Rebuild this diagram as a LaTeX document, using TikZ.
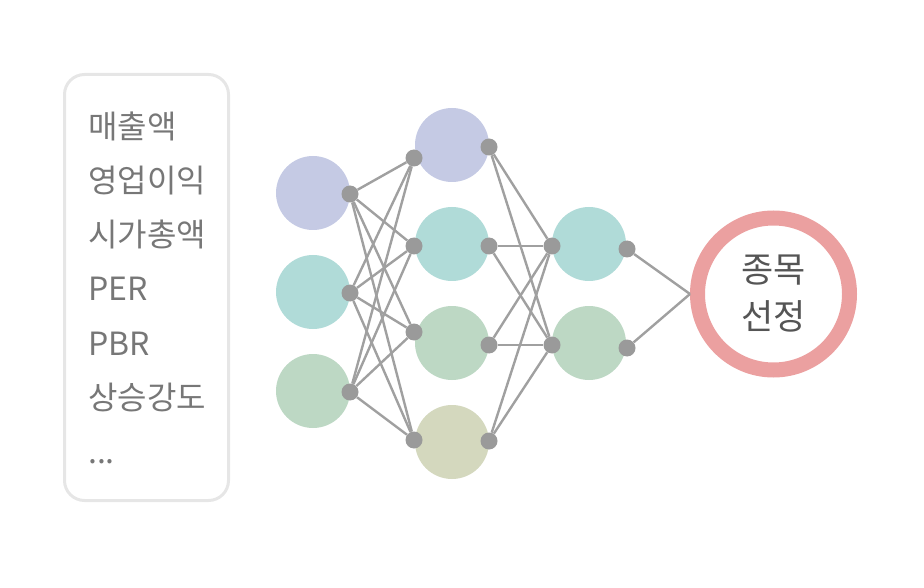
\documentclass[tikz,border=0pt]{standalone}
\usepackage{fontspec}
\setmainfont{Noto Sans CJK KR}
\definecolor{lavender}{HTML}{C5CAE4}
\definecolor{aqua}{HTML}{B0DBD8}
\definecolor{sage}{HTML}{BDD8C4}
\definecolor{olive}{HTML}{D4D8BE}
\definecolor{rose}{HTML}{EBA0A0}
\definecolor{dotgray}{HTML}{9A9A9A}
\definecolor{linegray}{HTML}{A0A0A0}
\definecolor{boxgray}{HTML}{E6E6E6}
\definecolor{textgray}{HTML}{777777}
\definecolor{darkgray}{HTML}{555555}
\tikzset{
  neuron/.style={shape=circle,minimum size=74pt,inner sep=0pt},
  pin/.style={shape=circle,fill=dotgray,minimum size=17pt,inner sep=0pt},
  wire/.style={draw=linegray,line width=2.4pt},
  feature/.style={anchor=base west,text=textgray,font=\fontsize{32}{32}\selectfont,inner sep=0pt}
}
\begin{document}
\begin{tikzpicture}[x=1pt,y=-1pt]
            \useasboundingbox (0,0) rectangle (924,588);
            % feature box
            \node[draw=boxgray,line width=3pt,rounded corners=20pt,minimum width=164pt,minimum height=426pt] (feat) at (146.5,287.5) {};
            \node[feature] (f1) at (88,139) {매출액};
            \node[feature] (f2) at (88,193) {영업이익};
            \node[feature] (f3) at (88,247) {시가총액};
            \node[feature] (f4) at (88,301) {PER};
            \node[feature] (f5) at (88,355) {PBR};
            \node[feature] (f6) at (88,409) {상승강도};
            \node[feature] (f7) at (88,463) {...};

            % vertices
            \node[neuron,fill=lavender] (i1) at (313,193) {};
            \node[neuron,fill=aqua] (i2) at (313,292) {};
            \node[neuron,fill=sage] (i3) at (313,391) {};
            \node[neuron,fill=lavender] (h1) at (452,145) {};
            \node[neuron,fill=aqua] (h2) at (452,244) {};
            \node[neuron,fill=sage] (h3) at (452,343) {};
            \node[neuron,fill=olive] (h4) at (452,442) {};
            \node[neuron,fill=aqua] (k1) at (589,244) {};
            \node[neuron,fill=sage] (k2) at (589,343) {};
            \node[shape=circle,draw=rose,line width=15pt,minimum size=152pt,inner sep=0pt,
                  align=center,text=darkgray,font=\fontsize{35}{47}\selectfont] (out) at (773.5,294) {종목\\선정};

            % pins
            \node[pin] (i1o) at (350,194) {};
            \node[pin] (i2o) at (350,293) {};
            \node[pin] (i3o) at (350,392) {};
            \node[pin] (h1i) at (414,158) {};
            \node[pin] (h2i) at (414,246) {};
            \node[pin] (h3i) at (414,332) {};
            \node[pin] (h4i) at (414,440) {};
            \node[pin] (h1o) at (489,147) {};
            \node[pin] (h2o) at (489,246) {};
            \node[pin] (h3o) at (489,345) {};
            \node[pin] (h4o) at (489,441) {};
            \node[pin] (k1i) at (552,246) {};
            \node[pin] (k2i) at (552,345) {};
            \node[pin] (k1o) at (627,249) {};
            \node[pin] (k2o) at (627,348) {};

            % edges
            \path [wire](i1o) edge (h1i);
            \path [wire](i1o) edge (h2i);
            \path [wire](i1o) edge (h3i);
            \path [wire](i1o) edge (h4i);
            \path [wire](i2o) edge (h1i);
            \path [wire](i2o) edge (h2i);
            \path [wire](i2o) edge (h3i);
            \path [wire](i2o) edge (h4i);
            \path [wire](i3o) edge (h1i);
            \path [wire](i3o) edge (h2i);
            \path [wire](i3o) edge (h3i);
            \path [wire](i3o) edge (h4i);
            \path [wire](h1o) edge (k1i);
            \path [wire](h1o) edge (k2i);
            \path [wire](h2o) edge (k1i);
            \path [wire](h2o) edge (k2i);
            \path [wire](h3o) edge (k1i);
            \path [wire](h3o) edge (k2i);
            \path [wire](h4o) edge (k1i);
            \path [wire](h4o) edge (k2i);
            \path [wire](k1o) edge (out.west);
            \path [wire](k2o) edge (out.west);
        \end{tikzpicture}
\end{document}
